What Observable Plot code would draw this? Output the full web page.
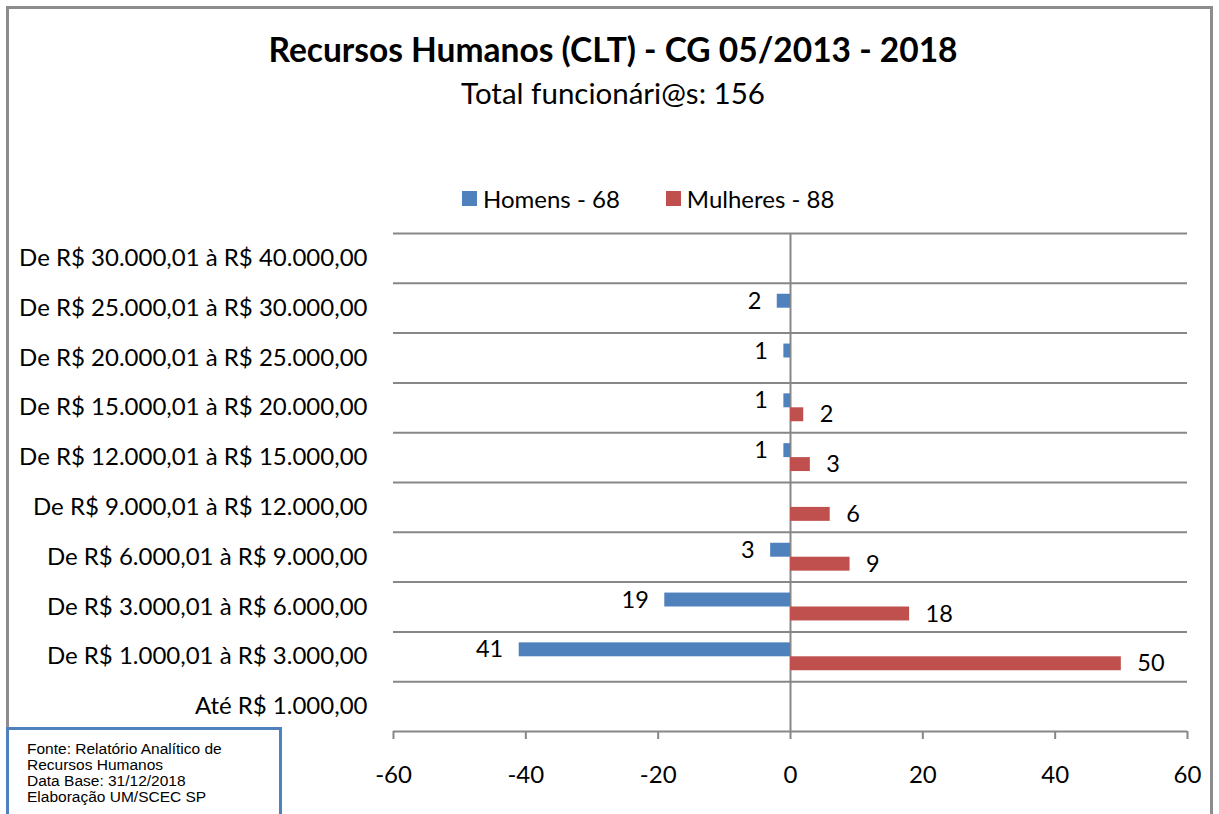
<!DOCTYPE html>
<html>
<head>
<meta charset="utf-8">
<script src="https://cdn.jsdelivr.net/npm/d3@7"></script>
<script src="https://cdn.jsdelivr.net/npm/@observablehq/plot@0.6"></script>
<style>
  html, body { margin: 0; padding: 0; background: #fff; }
  #wrap { position: relative; width: 1219px; height: 814px; overflow: hidden; background: #fff; font-family: Lato, "Open Sans", sans-serif; }
  #frame { position: absolute; left: 6px; top: 6px; width: 1207px; height: 820px; border: 3px solid #8c8c8c; box-sizing: border-box; }
  #title { position: absolute; left: 0; width: 1226px; top: 29px; text-align: center; font-weight: bold; font-size: 33.5px; color: #000; }
  #subtitle { position: absolute; left: 0; width: 1226px; top: 75px; text-align: center; font-size: 29.5px; color: #000; }
  #legend { position: absolute; top: 184px; left: 462px; font-size: 24px; display: flex; gap: 0; align-items: center; }
  .lg { display: flex; align-items: center; margin-right: 46px; }
  .sw { width: 15px; height: 15px; margin-right: 6px; }
  #plot { position: absolute; left: 0; top: 0; }
  #fonte { position: absolute; left: 6px; top: 727px; width: 276px; height: 120px; border: 3px solid #4f81bd; box-sizing: border-box; background: #fff; font-family: "Liberation Sans", Arial, sans-serif; font-size: 15.5px; line-height: 16px; padding: 11px 0 0 18px; color: #000; }
</style>
</head>
<body>
<div id="wrap">
  <div id="frame"></div>
  <div id="plot"></div>
  <div id="title">Recursos Humanos (CLT) - CG 05/2013 - 2018</div>
  <div id="subtitle">Total funcionári@s: 156</div>
  <div id="legend"></div>
  <div id="fonte">Fonte: Relatório Analítico de<br>Recursos Humanos<br>Data Base: 31/12/2018<br>Elaboração UM/SCEC SP</div>
</div>
<script>
// Categories listed top to bottom
const categories = [
  "De R$ 30.000,01 à R$ 40.000,00",
  "De R$ 25.000,01 à R$ 30.000,00",
  "De R$ 20.000,01 à R$ 25.000,00",
  "De R$ 15.000,01 à R$ 20.000,00",
  "De R$ 12.000,01 à R$ 15.000,00",
  "De R$ 9.000,01 à R$ 12.000,00",
  "De R$ 6.000,01 à R$ 9.000,00",
  "De R$ 3.000,01 à R$ 6.000,00",
  "De R$ 1.000,01 à R$ 3.000,00",
  "Até R$ 1.000,00"
];
const homens   = [0, 2, 1, 1, 1, 0, 3, 19, 41, 0];
const mulheres = [0, 0, 0, 2, 3, 6, 9, 18, 50, 0];
const seriesNames = ["Homens - 68", "Mulheres - 88"];
const seriesColors = ["#4f81bd", "#c0504d"];
const xTicks = [-60, -40, -20, 0, 20, 40, 60];

const n = categories.length;
// position value: bottom category center = 0.5, top = n - 0.5
const pos = i => n - i - 0.5;
const half = 0.28; // fraction of a band per bar

const rows = categories.map((c, i) => ({cat: c, i, c: pos(i), h: homens[i], m: mulheres[i]}));
const bounds = d3.range(1, n + 1);

const chart = Plot.plot({
  width: 1219,
  height: 814,
  marginLeft: 393,
  marginRight: 32,
  marginTop: 233,
  marginBottom: 83,
  style: {background: "transparent", fontFamily: "Lato, 'Open Sans', sans-serif", fontSize: "24px", color: "#000"},
  x: {domain: [-60, 60], label: null},
  y: {domain: [0, n], label: null},
  marks: [
    Plot.ruleY(bounds, {x1: -60, x2: 60, stroke: "#878787", strokeWidth: 2}),
    Plot.ruleY([0], {x1: -60, x2: 60, stroke: "#878787", strokeWidth: 2}),
    Plot.ruleX([0], {y1: 0, y2: n, stroke: "#878787", strokeWidth: 2}),
    Plot.rect(rows.filter(r => r.h > 0), {x1: 0, x2: r => -r.h, y1: r => r.c, y2: r => r.c + half, fill: seriesColors[0]}),
    Plot.rect(rows.filter(r => r.m > 0), {x1: 0, x2: r => r.m, y1: r => r.c - half, y2: r => r.c, fill: seriesColors[1]}),
    Plot.text(rows.filter(r => r.h > 0), {x: r => -r.h, y: r => r.c + half / 2, text: r => String(r.h), textAnchor: "end", dx: -16, fontSize: 23.5, fill: "#000"}),
    Plot.text(rows.filter(r => r.m > 0), {x: r => r.m, y: r => r.c - half / 2, text: r => String(r.m), textAnchor: "start", dx: 16, fontSize: 23.5, fill: "#000"}),
    Plot.axisX({ticks: xTicks, tickSize: 8, tickPadding: 26, stroke: "#878787", strokeWidth: 2, tickFormat: d => String(d), fill: "#000", fontSize: 24, label: null}),
    Plot.axisY({ticks: rows.map(r => r.c), tickFormat: v => categories[Math.round(n - 0.5 - v)], tickSize: 0, tickPadding: 26, fill: "#000", fontSize: 24, label: null})
  ]
});
document.getElementById("plot").appendChild(chart);

const lg = document.getElementById("legend");
seriesNames.forEach((s, k) => {
  const d = document.createElement("div");
  d.className = "lg";
  d.innerHTML = `<span class="sw" style="background:${seriesColors[k]}"></span><span>${s}</span>`;
  lg.appendChild(d);
});
</script>
</body>
</html>
